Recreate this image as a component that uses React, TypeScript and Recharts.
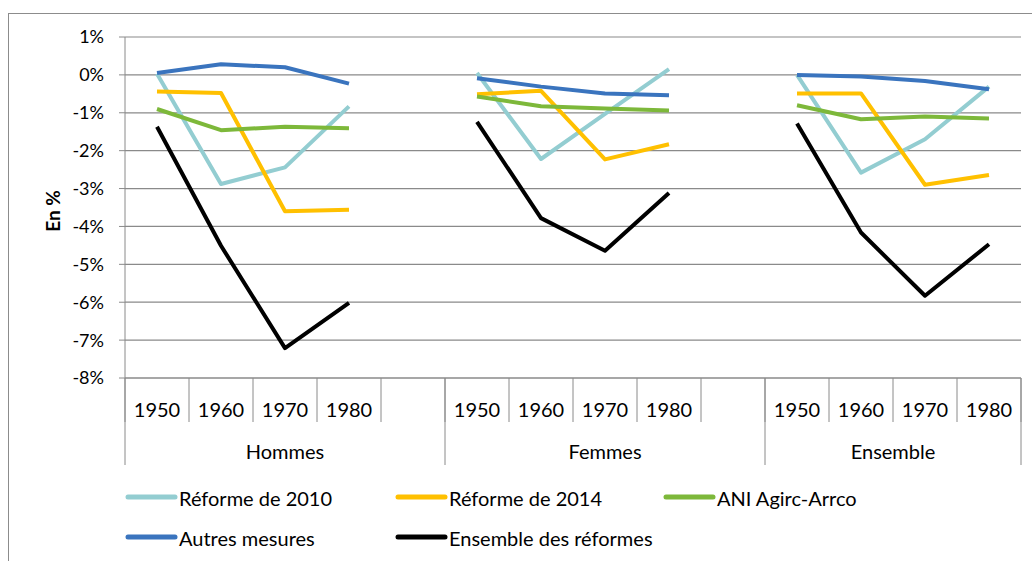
import { LineChart, Line, XAxis, YAxis, CartesianGrid, Label } from "recharts";

const GROUPS = ["Hommes", "Femmes", "Ensemble"];
const YEARS = ["1950", "1960", "1970", "1980"];
const Y_TICKS = [1, 0, -1, -2, -3, -4, -5, -6, -7, -8];

// values per group (Hommes, Femmes, Ensemble), 4 generations each
const reforme2010 = [0.03, -2.88, -2.44, -0.83, 0.05, -2.22, -1.03, 0.15, 0.0, -2.58, -1.7, -0.31];
const reforme2014 = [-0.44, -0.48, -3.6, -3.56, -0.51, -0.42, -2.23, -1.83, -0.49, -0.49, -2.9, -2.64];
const aniAgirc = [-0.9, -1.46, -1.37, -1.41, -0.57, -0.83, -0.89, -0.94, -0.8, -1.17, -1.1, -1.15];
const autresMesures = [0.05, 0.28, 0.2, -0.23, -0.09, -0.31, -0.49, -0.54, 0.0, -0.04, -0.16, -0.38];
const ensembleReformes = [-1.37, -4.51, -7.21, -6.02, -1.24, -3.78, -4.64, -3.12, -1.28, -4.16, -5.83, -4.47];

const SERIES = [
  { key: "r2010", name: "Réforme de 2010", color: "#93CDD1", values: reforme2010 },
  { key: "r2014", name: "Réforme de 2014", color: "#FFC000", values: reforme2014 },
  { key: "ani", name: "ANI Agirc-Arrco", color: "#7DB83A", values: aniAgirc },
  { key: "autres", name: "Autres mesures", color: "#3A74BE", values: autresMesures },
  { key: "ens", name: "Ensemble des réformes", color: "#000000", values: ensembleReformes },
];

type Row = { year: string; group: string; [k: string]: string | number | null };

const rows: Row[] = [];
GROUPS.forEach((g, gi) => {
  YEARS.forEach((y, yi) => {
    const r: Row = { year: y, group: g };
    SERIES.forEach((s) => (r[s.key] = s.values[gi * YEARS.length + yi]));
    rows.push(r);
  });
  if (gi < GROUPS.length - 1) {
    const gap: Row = { year: "", group: g };
    SERIES.forEach((s) => (gap[s.key] = null));
    rows.push(gap);
  }
});

const W = 1032;
const H = 561;
const LEFT = 125;
const RIGHT = 11;
const TOP = 37;
const AXIS_H = 44;
const BAND = (W - LEFT - RIGHT) / rows.length;
const PAD = { left: BAND / 2, right: BAND / 2 };
const FONT = "Lato, 'Open Sans', sans-serif";
const GRID = "#8A8A8A";

function YearTick({ x, y, payload }: any) {
  const i = payload.index;
  return (
    <g>
      <line x1={x - BAND / 2} x2={x - BAND / 2} y1={y} y2={y + AXIS_H} stroke={GRID} />
      {i === rows.length - 1 && (
        <line x1={x + BAND / 2} x2={x + BAND / 2} y1={y} y2={y + AXIS_H} stroke={GRID} />
      )}
      <text x={x} y={y + 39} textAnchor="middle" fontSize={20} fontFamily={FONT} fill="#000">
        {payload.value}
      </text>
    </g>
  );
}

function GroupTick({ x, y, payload }: any) {
  const i = payload.index;
  const g = rows[i].group;
  const first = i === 0 || rows[i - 1].group !== g;
  const last = i === rows.length - 1;
  if (!first && !last) return <g />;
  const size = rows.filter((r) => r.group === g).length;
  const left = x - BAND / 2;
  return (
    <g>
      {first && <line x1={left} x2={left} y1={y - AXIS_H} y2={y + 43} stroke={GRID} />}
      {last && <line x1={x + BAND / 2} x2={x + BAND / 2} y1={y - AXIS_H} y2={y + 43} stroke={GRID} />}
      {first && (
        <text x={left + (size * BAND) / 2} y={y + 37} textAnchor="middle" fontSize={20} fontFamily={FONT} fill="#000">
          {g}
        </text>
      )}
    </g>
  );
}

function ChartLegend() {
  const cols = [128, 398, 666];
  const rowsY = [497, 537];
  return (
    <svg width={W} height={H} style={{ position: "absolute", left: 0, top: 0, pointerEvents: "none" }}>
      {SERIES.map((s, i) => {
        const lx = cols[i % 3];
        const ly = rowsY[Math.floor(i / 3)];
        return (
          <g key={s.key}>
            <line x1={lx} x2={lx + 47} y1={ly} y2={ly} stroke={s.color} strokeWidth={5} strokeLinecap="round" />
            <text x={lx + 51} y={ly + 9} fontSize={20} fontFamily={FONT} fill="#000">
              {s.name}
            </text>
          </g>
        );
      })}
    </svg>
  );
}

export default function App() {
  return (
    <div style={{ position: "absolute", left: 0, top: 0, width: W, height: H, background: "#fff", overflow: "hidden" }}>
      <div
        style={{
          position: "absolute",
          left: 8,
          top: 13,
          width: W,
          height: H,
          borderLeft: "1px solid #8C8C8C",
          borderTop: "1px solid #8C8C8C",
        }}
      />
      <LineChart
        width={W}
        height={H}
        data={rows}
        margin={{ top: TOP, right: RIGHT, left: LEFT - 60, bottom: H - 378 - AXIS_H * 2 }}
        style={{ position: "absolute", left: 0, top: 0 }}
      >
        <CartesianGrid horizontal vertical={false} stroke={GRID} strokeWidth={1.2} />
        <XAxis
          dataKey="year"
          padding={PAD}
          interval={0}
          height={AXIS_H}
          tickSize={0}
          tickMargin={0}
          axisLine={{ stroke: GRID }}
          tickLine={false}
          tick={<YearTick />}
        />
        <XAxis
          xAxisId="g"
          dataKey="group"
          padding={PAD}
          interval={0}
          height={AXIS_H}
          tickSize={0}
          tickMargin={0}
          axisLine={false}
          tickLine={false}
          tick={<GroupTick />}
        />
        <YAxis
          width={60}
          domain={[-8, 1]}
          ticks={Y_TICKS}
          interval={0}
          tickFormatter={(v: number) => `${v}%`}
          axisLine={{ stroke: GRID }}
          tickLine={{ stroke: GRID }}
          tickSize={6}
          tickMargin={15}
          tick={{ fill: "#000", fontSize: 18, fontFamily: FONT }}
        >
          <Label
            content={() => (
              <text
                x={52}
                y={211}
                transform="rotate(-90 52 211)"
                textAnchor="middle"
                dominantBaseline="central"
                fontSize={19}
                fontWeight="bold"
                fontFamily={FONT}
                fill="#000"
              >
                En %
              </text>
            )}
          />
        </YAxis>
        {SERIES.map((s) => (
          <Line
            key={s.key}
            dataKey={s.key}
            name={s.name}
            stroke={s.color}
            strokeWidth={4}
            strokeLinejoin="round"
            dot={false}
            connectNulls={false}
            isAnimationActive={false}
          />
        ))}
      </LineChart>
      <ChartLegend />
    </div>
  );
}
